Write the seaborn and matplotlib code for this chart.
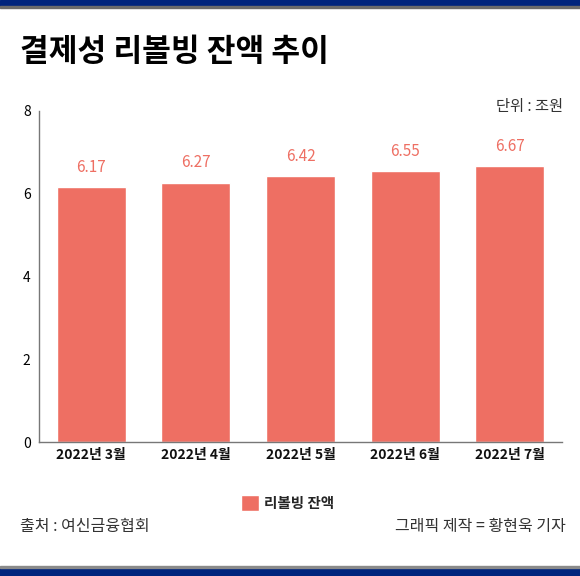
import matplotlib
matplotlib.use("Agg")
import matplotlib.pyplot as plt
import seaborn as sns
import pandas as pd
from matplotlib.patches import Rectangle

# 데이터
months = ["2022년 3월", "2022년 4월", "2022년 5월", "2022년 6월", "2022년 7월"]
balance = [6.17, 6.27, 6.42, 6.55, 6.67]
yticks = [0, 2, 4, 6, 8]

bar_color = "#EE6F63"
navy = "#00247D"

sns.set_theme(style="white")
plt.rcParams["font.family"] = ["Noto Sans CJK KR", "DejaVu Sans"]

df = pd.DataFrame({"월": months, "리볼빙 잔액": balance})

fig = plt.figure(figsize=(5.8, 5.76), dpi=100)
ax = fig.add_axes([39 / 580, 1 - 442 / 576, 523 / 580, 331 / 576])

sns.barplot(data=df, x="월", y="리볼빙 잔액", color=bar_color, width=0.66,
            saturation=1, ax=ax, label="리볼빙 잔액")

ax.set_ylim(0, 8)
ax.set_xlim(-0.5, 4.5)
ax.set_yticks(yticks)
ax.set_yticklabels([str(t) for t in yticks], fontsize=10, color="black")
ax.tick_params(axis="y", length=0, pad=6)
ax.tick_params(axis="x", length=0, pad=4)
for lbl in ax.get_xticklabels():
    lbl.set_fontsize(10)
    lbl.set_fontweight("bold")
    lbl.set_color("#111111")
ax.set_xlabel("")
ax.set_ylabel("")
for s in ["top", "right"]:
    ax.spines[s].set_visible(False)
for s in ["left", "bottom"]:
    ax.spines[s].set_color("#777777")
    ax.spines[s].set_linewidth(1)

for i, v in enumerate(balance):
    ax.text(i, v + 0.27, f"{v:.2f}", ha="center", va="bottom",
            fontsize=11, fontweight="medium", color=bar_color)

leg = ax.legend(loc="upper center", bbox_to_anchor=(0.475, -0.12), frameon=False,
                handlelength=1.25, handleheight=1.25, handletextpad=0.35,
                prop={"size": 10.5, "weight": "bold"})

# 제목과 주석
fig.text(20 / 580, 1 - 52 / 576, "결제성 리볼빙 잔액 추이", fontsize=22.5,
         fontweight="black", color="black", va="center", ha="left")
fig.text(563 / 580, 1 - 107 / 576, "단위 : 조원", fontsize=11, color="#333333",
         va="center", ha="right")
fig.text(20 / 580, 1 - 527 / 576, "출처 : 여신금융협회", fontsize=11.5,
         color="#333333", va="center", ha="left")
fig.text(566 / 580, 1 - 527 / 576, "그래픽 제작 = 황현욱 기자", fontsize=11.5,
         color="#333333", va="center", ha="right")

# 상단/하단 띠
fig.patches.append(Rectangle((0, 1 - 6 / 576), 1, 6 / 576, transform=fig.transFigure,
                             color=navy, zorder=5))
fig.patches.append(Rectangle((0, 1 - 8 / 576), 1, 2 / 576, transform=fig.transFigure,
                             color="#6b6b6b", zorder=5))
fig.patches.append(Rectangle((0, 0), 1, 8 / 576, transform=fig.transFigure,
                             color=navy, zorder=5))
fig.patches.append(Rectangle((0, 8 / 576), 1, 2 / 576, transform=fig.transFigure,
                             color="#8a8a8a", zorder=5))

fig.savefig("out.png", dpi=100)
